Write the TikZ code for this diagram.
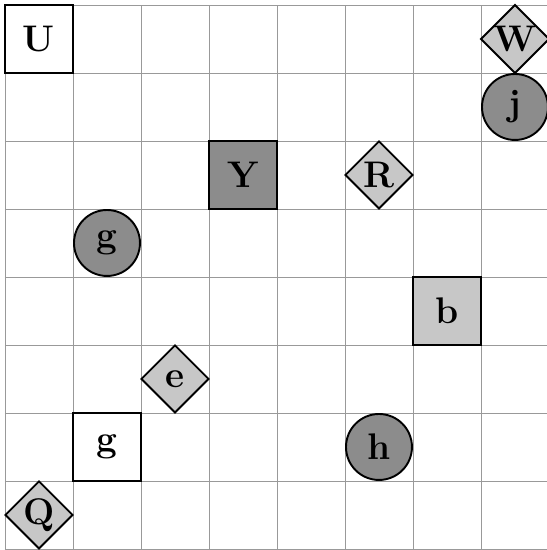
\documentclass[tikz,border=0pt]{standalone}
\usetikzlibrary{shapes.geometric}

\begin{document}
\begin{tikzpicture}[
  font=\fontsize{15.5}{18}\selectfont\bfseries,
  cell/.style={draw, thick, minimum size=1cm, inner sep=0pt},
  box/.style={cell, rectangle},
  rhomb/.style={cell, diamond, fill=black!22},
  disc/.style={cell, circle, fill=black!45, minimum size=0.97cm},
]
  \useasboundingbox (-0.0735,-0.015) rectangle (7.97,8.0735);
  % board
  \draw[black!40, line width=0.4pt] (0,0) grid (8,8);

  % squares
  \node[box, fill=white]    (sqU) at (0.5,7.5) {U};
  \node[box, fill=black!45] (sqY) at (3.5,5.5) {Y};
  \node[box, fill=black!22] (sqb) at (6.5,3.5) {b};
  \node[box, fill=white]    (sqg) at (1.5,1.5) {g};

  % diamonds
  \node[rhomb] (dW) at (7.5,7.5) {W};
  \node[rhomb] (dR) at (5.5,5.5) {R};
  \node[rhomb] (de) at (2.5,2.5) {e};
  \node[rhomb] (dQ) at (0.5,0.5) {Q};

  % circles
  \node[disc] (cj) at (7.5,6.5) {j};
  \node[disc] (cg) at (1.5,4.5) {g};
  \node[disc] (ch) at (5.5,1.5) {h};
\end{tikzpicture}
\end{document}
